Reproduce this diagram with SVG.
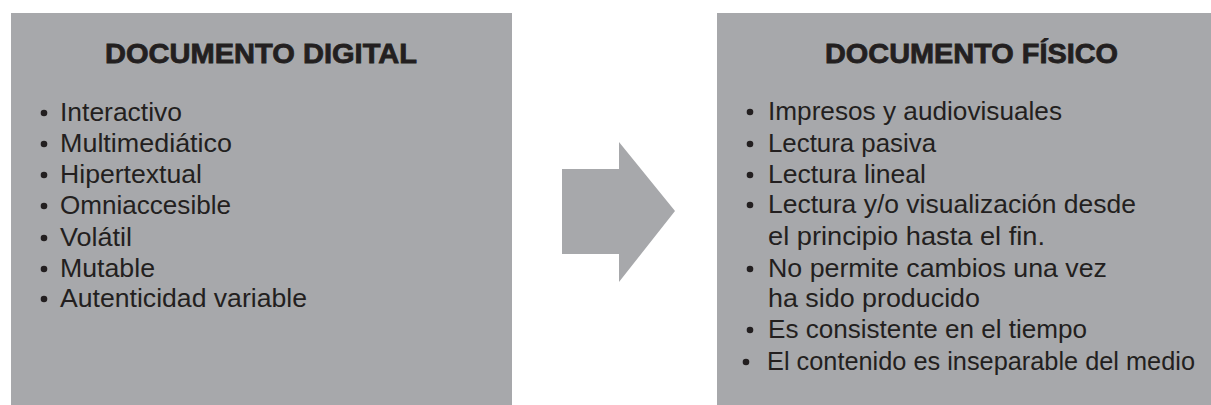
<svg xmlns="http://www.w3.org/2000/svg" width="1211" height="405" viewBox="0 0 1211 405">
<style>
.box{fill:#a7a8ab}
.title{font-family:"Liberation Sans",Arial,sans-serif;font-weight:bold;font-size:28px;fill:#231f20;stroke:#231f20;stroke-width:0.8px}
.item{font-family:"Liberation Sans",Arial,sans-serif;font-size:26px;fill:#231f20}
.bul{fill:#231f20}
</style>
<rect width="1211" height="405" fill="#ffffff"/>
<g id="digital">
<rect class="box" x="11" y="13" width="501" height="400"/>
<text class="title" x="105" y="63" textLength="312" lengthAdjust="spacingAndGlyphs">DOCUMENTO DIGITAL</text>
<circle class="bul" cx="44" cy="113" r="3.3"/>
<text class="item" x="60" y="121" textLength="122" lengthAdjust="spacingAndGlyphs">Interactivo</text>
<circle class="bul" cx="44" cy="144" r="3.3"/>
<text class="item" x="60" y="152" textLength="172" lengthAdjust="spacingAndGlyphs">Multimediático</text>
<circle class="bul" cx="44" cy="175" r="3.3"/>
<text class="item" x="60" y="183" textLength="142" lengthAdjust="spacingAndGlyphs">Hipertextual</text>
<circle class="bul" cx="44" cy="206" r="3.3"/>
<text class="item" x="60" y="214" textLength="171" lengthAdjust="spacingAndGlyphs">Omniaccesible</text>
<circle class="bul" cx="44" cy="238" r="3.3"/>
<text class="item" x="60" y="246" textLength="72" lengthAdjust="spacingAndGlyphs">Volátil</text>
<circle class="bul" cx="44" cy="269" r="3.3"/>
<text class="item" x="60" y="277" textLength="95" lengthAdjust="spacingAndGlyphs">Mutable</text>
<circle class="bul" cx="44" cy="299" r="3.3"/>
<text class="item" x="60" y="307" textLength="247" lengthAdjust="spacingAndGlyphs">Autenticidad variable</text>
</g>
<g id="connectors">
<polygon class="box" points="562,169 619,169 619,142 675,211 619,282 619,254 562,254"/>
</g>
<g id="fisico">
<rect class="box" x="717" y="13" width="510" height="400"/>
<text class="title" x="825" y="63" textLength="293" lengthAdjust="spacingAndGlyphs">DOCUMENTO FÍSICO</text>
<circle class="bul" cx="750" cy="112" r="3.3"/>
<text class="item" x="768" y="120" textLength="294" lengthAdjust="spacingAndGlyphs">Impresos y audiovisuales</text>
<circle class="bul" cx="750" cy="144" r="3.3"/>
<text class="item" x="768" y="152" textLength="168" lengthAdjust="spacingAndGlyphs">Lectura pasiva</text>
<circle class="bul" cx="750" cy="175" r="3.3"/>
<text class="item" x="768" y="183" textLength="158" lengthAdjust="spacingAndGlyphs">Lectura lineal</text>
<circle class="bul" cx="750" cy="205" r="3.3"/>
<text class="item" x="768" y="213" textLength="368" lengthAdjust="spacingAndGlyphs">Lectura y/o visualización desde</text>
<text class="item" x="768" y="245" textLength="277" lengthAdjust="spacingAndGlyphs">el principio hasta el fin.</text>
<circle class="bul" cx="750" cy="269" r="3.3"/>
<text class="item" x="768" y="277" textLength="339" lengthAdjust="spacingAndGlyphs">No permite cambios una vez</text>
<text class="item" x="768" y="307" textLength="212" lengthAdjust="spacingAndGlyphs">ha sido producido</text>
<circle class="bul" cx="750" cy="330" r="3.3"/>
<text class="item" x="768" y="338" textLength="319" lengthAdjust="spacingAndGlyphs">Es consistente en el tiempo</text>
<circle class="bul" cx="746" cy="362" r="3.3"/>
<text class="item" x="767" y="370" textLength="428" lengthAdjust="spacingAndGlyphs">El contenido es inseparable del medio</text>
</g>
</svg>
